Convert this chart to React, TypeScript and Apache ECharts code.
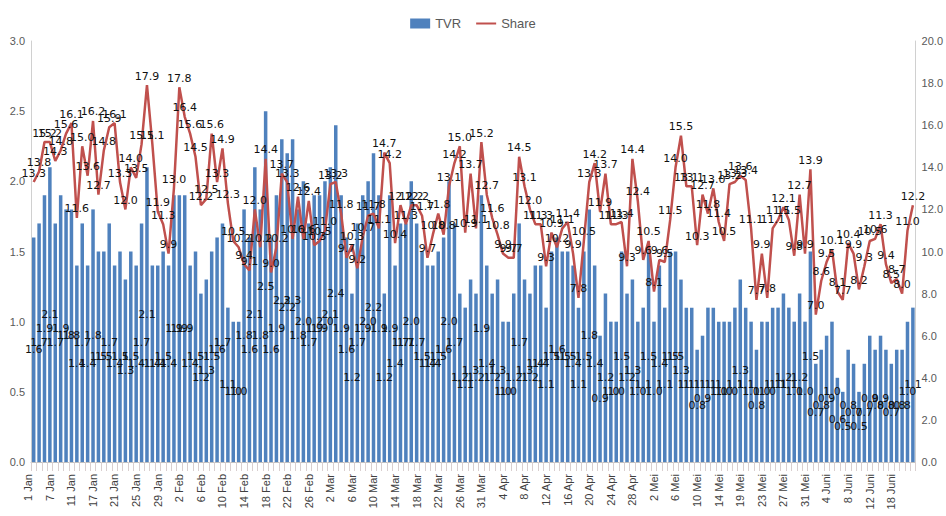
import React, { useEffect, useRef } from "react";
import * as echarts from "echarts";

const tickLabels: string[] = [
  "1 Jan", "7 Jan", "11 Jan", "17 Jan", "21 Jan", "25 Jan", "29 Jan",
  "2 Feb", "6 Feb", "10 Feb", "14 Feb", "18 Feb", "22 Feb", "26 Feb",
  "2 Mar", "6 Mar", "10 Mar", "14 Mar", "18 Mar", "22 Mar", "26 Mar", "31 Mar",
  "4 Apr", "8 Apr", "12 Apr", "16 Apr", "20 Apr", "24 Apr", "28 Apr",
  "2 Mei", "6 Mei", "10 Mei", "14 Mei", "19 Mei", "23 Mei", "27 Mei", "31 Mei",
  "4 Juni", "8 Juni", "12 Juni", "18 Juni",
];
const monthNames = ["Jan", "Feb", "Mar", "Apr", "Mei", "Juni"];
const monthDays = [31, 29, 31, 30, 31, 30];

const tvr: number[] = [
  1.6, 1.7, 1.9, 2.1, 1.7, 1.9, 1.8, 1.8, 1.4, 1.7,
  1.4, 1.8, 1.5, 1.5, 1.7, 1.4, 1.5, 1.3, 1.5, 1.4,
  1.7, 2.1, 1.4, 1.4, 1.5, 1.4, 1.9, 1.9, 1.9, 1.4,
  1.5, 1.2, 1.3, 1.5, 1.6, 1.7, 1.1, 1.0, 1.0, 1.8,
  1.6, 2.1, 1.8, 2.5, 1.6, 1.9, 2.3, 2.2, 2.3, 1.8,
  2.0, 1.7, 1.9, 1.9, 2.0, 2.1, 2.4, 1.9, 1.6, 1.2,
  1.7, 1.9, 2.0, 2.2, 1.9, 1.2, 1.9, 1.4, 1.7, 1.7,
  2.0, 1.7, 1.5, 1.4, 1.4, 1.5, 1.6, 2.0, 1.7, 1.2,
  1.1, 1.3, 1.2, 1.9, 1.4, 1.2, 1.3, 1.0, 1.0, 1.2,
  1.7, 1.3, 1.2, 1.4, 1.4, 1.1, 1.5, 1.6, 1.5, 1.5,
  1.4, 1.1, 1.5, 1.8, 1.4, 0.9, 1.2, 1.0, 1.0, 1.5,
  1.2, 1.3, 1.0, 1.1, 1.5, 1.0, 1.4, 1.1, 1.5, 1.5,
  1.3, 1.1, 1.1, 0.8, 0.9, 1.1, 1.1, 1.0, 1.0, 1.0,
  1.1, 1.3, 1.1, 1.0, 0.8, 1.0, 1.0, 1.1, 1.1, 1.2,
  1.1, 1.0, 1.2, 1.0, 1.5, 0.7, 0.8, 0.9, 1.0, 0.6,
  0.5, 0.8, 0.7, 0.5, 0.7, 0.9, 0.8, 0.9, 0.8, 0.7,
  0.8, 0.8, 1.0, 1.1,
];

const share: number[] = [
  13.3, 13.8, 15.2, 15.2, 14.3, 14.8, 15.6, 16.1, 11.6, 15.0,
  13.6, 16.2, 12.7, 14.8, 15.9, 16.1, 13.3, 12.0, 14.0, 13.5,
  15.1, 17.9, 15.1, 11.9, 11.3, 9.9, 13.0, 17.8, 16.4, 15.6,
  14.5, 12.2, 12.5, 15.6, 13.3, 14.9, 12.3, 10.5, 10.2, 9.4,
  9.1, 12.0, 10.2, 14.4, 9.0, 10.2, 13.7, 13.3, 10.6, 12.6,
  10.6, 12.4, 10.3, 10.5, 11.0, 13.2, 13.3, 11.8, 9.7, 10.3,
  9.2, 10.7, 11.7, 11.8, 11.1, 14.7, 14.2, 10.4, 12.2, 11.3,
  12.2, 12.2, 11.7, 9.7, 10.8, 11.8, 10.8, 13.1, 14.2, 15.0,
  10.9, 13.7, 11.1, 15.2, 12.7, 11.6, 10.8, 9.9, 9.7, 9.7,
  14.5, 13.1, 12.0, 11.3, 11.3, 9.3, 10.9, 10.2, 11.1, 11.4,
  9.9, 7.8, 10.5, 13.3, 14.2, 11.9, 13.7, 11.3, 11.3, 11.4,
  9.3, 14.4, 12.4, 9.6, 10.5, 8.1, 9.6, 9.5, 11.5, 14.0,
  15.5, 13.1, 13.1, 10.3, 12.7, 11.8, 13.0, 11.4, 10.5, 13.2,
  13.3, 13.6, 13.4, 11.1, 7.7, 9.9, 7.8, 11.1, 11.5, 12.1,
  11.5, 9.8, 12.7, 9.9, 13.9, 7.0, 8.6, 9.5, 10.1, 8.1,
  7.7, 10.4, 9.9, 8.2, 9.3, 10.5, 10.6, 11.3, 9.4, 8.5,
  8.7, 8.0, 11.0, 12.2,
];

function buildCategories(): string[] {
  const out: string[] = [];
  tickLabels.forEach((t) => {
    const parts = t.split(" ");
    let day = parseInt(parts[0], 10);
    let mi = monthNames.indexOf(parts[1]);
    out.push(t);
    for (let k = 1; k < 4; k++) {
      day += 1;
      if (day > monthDays[mi]) {
        day = 1;
        mi += 1;
      }
      out.push(`${day} ${monthNames[mi]}`);
    }
  });
  return out;
}

const categories = buildCategories();

export default function App() {
  const ref = useRef<HTMLDivElement>(null);

  useEffect(() => {
    if (!ref.current) return;
    const chart = echarts.init(ref.current, undefined, { renderer: "svg" });
    const axisFont = "Liberation Sans, Arial, sans-serif";
    const labelFont = "DejaVu Sans, Verdana, sans-serif";
    const option: any = {
      animation: false,
      backgroundColor: "#ffffff",
      textStyle: { fontFamily: axisFont },
      legend: {
        top: 12,
        left: "center",
        itemWidth: 20,
        itemHeight: 10,
        itemGap: 14,
        textStyle: { fontSize: 13, color: "#595959", fontFamily: axisFont },
        data: [
          { name: "TVR", icon: "rect" },
          { name: "Share", itemStyle: { color: "rgba(0,0,0,0)", borderWidth: 0 } },
        ],
      },
      grid: { left: 31, right: 29, top: 41, bottom: 54, containLabel: false },
      xAxis: {
        type: "category",
        data: categories,
        boundaryGap: true,
        axisLine: { show: true, lineStyle: { color: "#bfbfbf", width: 1 } },
        axisTick: {
          show: true,
          interval: 0,
          length: 9,
          lineStyle: { color: "#d9cfcf" },
        },
        axisLabel: {
          interval: 3,
          rotate: 90,
          fontSize: 11,
          color: "#404040",
          margin: 12,
          fontFamily: axisFont,
          verticalAlign: "bottom",
        },
      },
      yAxis: [
        {
          type: "value",
          min: 0,
          max: 3,
          interval: 0.5,
          position: "left",
          axisLine: { show: true, lineStyle: { color: "#d0d0d0" } },
          axisTick: { show: false },
          splitLine: { show: false },
          axisLabel: {
            formatter: (v: number) => v.toFixed(1),
            color: "#595959",
            fontSize: 11,
            margin: 6,
          },
        },
        {
          type: "value",
          min: 0,
          max: 20,
          interval: 2,
          position: "right",
          axisLine: { show: true, lineStyle: { color: "#d0d0d0" } },
          axisTick: { show: false },
          splitLine: { show: false },
          axisLabel: {
            formatter: (v: number) => v.toFixed(1),
            color: "#595959",
            fontSize: 11,
            margin: 6,
          },
        },
      ],
      series: [
        {
          name: "TVR",
          type: "bar",
          yAxisIndex: 0,
          data: tvr,
          barCategoryGap: "35%",
          itemStyle: { color: "#4f81bd" },
          label: {
            show: true,
            position: "inside",
            color: "#111111",
            fontSize: 11,
            fontFamily: labelFont,
            formatter: (p: any) => Number(p.value).toFixed(1),
          },
          z: 2,
        },
        {
          name: "Share",
          type: "line",
          yAxisIndex: 1,
          data: share,
          symbol: "circle",
          symbolSize: 1,
          showSymbol: true,
          lineStyle: { color: "#c0504d", width: 2.5 },
          itemStyle: { color: "rgba(192,80,77,0)", borderWidth: 0 },
          label: {
            show: true,
            position: "top",
            distance: 3,
            color: "#111111",
            fontSize: 11,
            fontFamily: labelFont,
            formatter: (p: any) => Number(p.value).toFixed(1),
          },
          z: 3,
        },
      ],
    };
    chart.setOption(option);
    return () => {
      chart.dispose();
    };
  }, []);

  return (
    <div
      ref={ref}
      style={{
        position: "fixed",
        left: 0,
        top: 0,
        width: 946,
        height: 516,
        background: "#ffffff",
      }}
    />
  );
}
